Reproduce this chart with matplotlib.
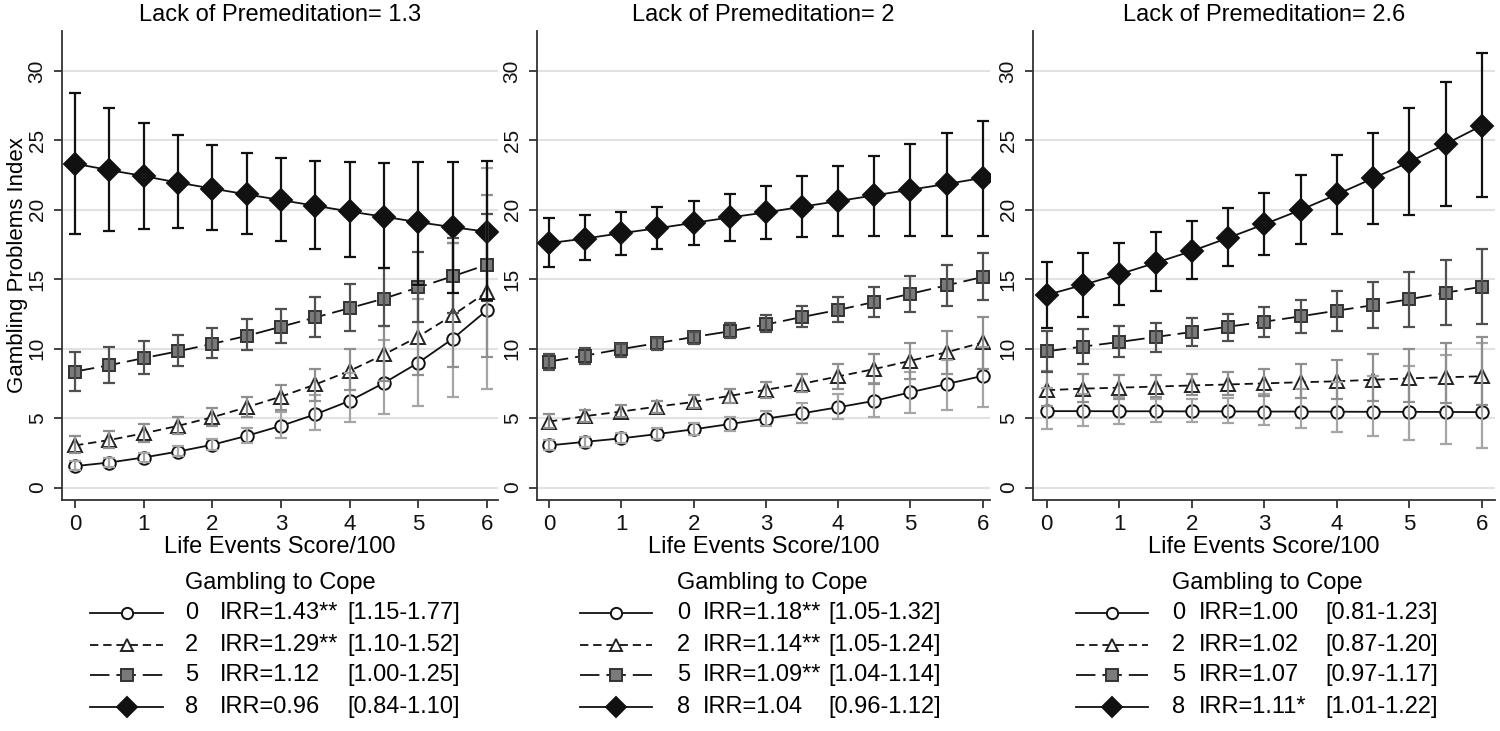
"""
Predicted Gambling Problems Index by life events, split by lack of
premeditation (three panels) and gambling-to-cope level (four lines).
"""

import numpy as np
import matplotlib
matplotlib.use("Agg")
import matplotlib.pyplot as plt
from matplotlib.lines import Line2D

plt.rcParams["font.family"] = ["Liberation Sans", "DejaVu Sans"]
plt.rcParams["lines.scale_dashes"] = False

# x axis: life events score / 100
LIFE_EVENTS = [0, 0.5, 1, 1.5, 2, 2.5, 3, 3.5, 4, 4.5, 5, 5.5, 6]
COPE_LEVELS = ["0", "2", "5", "8"]

# Lack of premeditation = 1.3
P13_C0 = [1.54, 1.80, 2.16, 2.59, 3.08, 3.72, 4.44, 5.27, 6.24, 7.53, 8.99, 10.71, 12.77]
P13_C0_LO = [1.25, 1.50, 1.85, 2.25, 2.70, 3.20, 3.60, 4.15, 4.70, 5.30, 5.90, 6.50, 7.10]
P13_C0_HI = [1.90, 2.16, 2.52, 2.98, 3.51, 4.32, 5.45, 6.65, 8.25, 10.60, 13.60, 17.60, 23.00]
P13_C2 = [3.03, 3.42, 3.90, 4.44, 5.06, 5.78, 6.55, 7.42, 8.40, 9.58, 10.87, 12.41, 14.08]
P13_C2_LO = [2.45, 2.85, 3.30, 3.85, 4.45, 5.05, 5.60, 6.25, 7.00, 7.70, 8.10, 8.70, 9.40]
P13_C2_HI = [3.70, 4.05, 4.55, 5.05, 5.70, 6.50, 7.40, 8.50, 9.95, 11.60, 14.50, 17.60, 21.10]
P13_C5 = [8.35, 8.81, 9.32, 9.81, 10.35, 10.92, 11.58, 12.25, 12.92, 13.61, 14.41, 15.21, 16.05]
P13_C5_LO = [6.94, 7.53, 8.14, 8.73, 9.32, 9.89, 10.40, 10.87, 11.30, 11.64, 11.90, 12.60, 13.40]
P13_C5_HI = [9.76, 10.15, 10.53, 10.97, 11.48, 12.12, 12.84, 13.69, 14.64, 15.80, 16.95, 17.98, 19.70]
P13_C8 = [23.32, 22.86, 22.43, 21.96, 21.53, 21.11, 20.70, 20.29, 19.88, 19.50, 19.11, 18.75, 18.42]
P13_C8_LO = [18.24, 18.50, 18.62, 18.67, 18.55, 18.24, 17.78, 17.21, 16.57, 15.80, 14.60, 14.00, 13.50]
P13_C8_HI = [28.38, 27.30, 26.28, 25.40, 24.66, 24.10, 23.76, 23.50, 23.43, 23.38, 23.43, 23.45, 23.55]

# Lack of premeditation = 2
P20_C0 = [3.03, 3.29, 3.54, 3.85, 4.19, 4.57, 4.96, 5.34, 5.78, 6.24, 6.86, 7.45, 8.04]
P20_C0_LO = [2.70, 2.95, 3.20, 3.50, 3.80, 4.10, 4.40, 4.62, 4.93, 5.10, 5.34, 5.60, 5.82]
P20_C0_HI = [3.40, 3.65, 3.92, 4.25, 4.62, 5.08, 5.50, 6.06, 6.70, 7.50, 8.30, 9.15, 10.10]
P20_C2 = [4.75, 5.14, 5.47, 5.83, 6.16, 6.60, 7.04, 7.47, 8.00, 8.53, 9.13, 9.74, 10.45]
P20_C2_LO = [4.29, 4.70, 5.06, 5.39, 5.72, 6.10, 6.44, 6.85, 7.10, 7.45, 7.85, 8.15, 8.50]
P20_C2_HI = [5.27, 5.57, 5.91, 6.24, 6.68, 7.06, 7.58, 8.18, 8.86, 9.60, 10.40, 11.28, 12.30]
P20_C5 = [9.07, 9.50, 9.97, 10.40, 10.84, 11.25, 11.74, 12.28, 12.79, 13.36, 13.95, 14.56, 15.16]
P20_C5_LO = [8.48, 8.91, 9.38, 9.89, 10.35, 10.79, 11.17, 11.56, 11.89, 12.28, 12.66, 13.10, 13.49]
P20_C5_HI = [9.63, 10.02, 10.35, 10.79, 11.23, 11.82, 12.46, 13.10, 13.74, 14.46, 15.23, 16.05, 16.90]
P20_C8 = [17.60, 17.93, 18.32, 18.67, 19.06, 19.45, 19.81, 20.22, 20.63, 21.04, 21.45, 21.86, 22.30]
P20_C8_LO = [15.85, 16.36, 16.77, 17.21, 17.47, 17.72, 17.90, 18.03, 18.11, 18.11, 18.11, 18.11, 18.11]
P20_C8_HI = [19.39, 19.65, 19.86, 20.22, 20.63, 21.11, 21.73, 22.40, 23.12, 23.89, 24.71, 25.56, 26.41]

# Lack of premeditation = 2.6
P26_C0 = [5.50, 5.50, 5.49, 5.49, 5.48, 5.48, 5.47, 5.47, 5.46, 5.45, 5.45, 5.44, 5.43]
P26_C0_LO = [4.21, 4.45, 4.59, 4.71, 4.74, 4.64, 4.47, 4.25, 3.97, 3.73, 3.44, 3.15, 2.88]
P26_C0_HI = [7.14, 6.75, 6.55, 6.38, 6.34, 6.48, 6.72, 7.07, 7.57, 8.05, 8.73, 9.53, 10.40]
P26_C2 = [7.01, 7.12, 7.19, 7.27, 7.35, 7.42, 7.50, 7.58, 7.65, 7.76, 7.86, 7.94, 8.01]
P26_C2_LO = [5.84, 6.18, 6.36, 6.52, 6.63, 6.64, 6.57, 6.48, 6.36, 6.26, 6.18, 6.06, 5.92]
P26_C2_HI = [8.41, 8.20, 8.13, 8.10, 8.15, 8.29, 8.56, 8.87, 9.20, 9.62, 10.00, 10.41, 10.84]
P26_C5 = [9.81, 10.15, 10.48, 10.84, 11.20, 11.58, 11.94, 12.33, 12.74, 13.13, 13.56, 14.03, 14.46]
P26_C5_LO = [8.35, 8.86, 9.38, 9.76, 10.20, 10.53, 10.87, 11.10, 11.30, 11.48, 11.56, 11.69, 11.74]
P26_C5_HI = [11.30, 11.43, 11.64, 11.87, 12.20, 12.51, 13.02, 13.54, 14.13, 14.82, 15.54, 16.36, 17.21]
P26_C8 = [13.87, 14.59, 15.36, 16.18, 17.03, 17.98, 18.96, 19.99, 21.11, 22.27, 23.45, 24.74, 26.07]
P26_C8_LO = [11.48, 12.28, 13.18, 14.13, 15.03, 15.93, 16.77, 17.54, 18.29, 19.01, 19.65, 20.29, 20.93]
P26_C8_HI = [16.23, 16.90, 17.60, 18.37, 19.21, 20.16, 21.24, 22.53, 23.97, 25.56, 27.31, 29.21, 31.29]

# Legend texts
P13_IRR = ["IRR=1.43**", "IRR=1.29**", "IRR=1.12", "IRR=0.96"]
P13_CI = ["[1.15-1.77]", "[1.10-1.52]", "[1.00-1.25]", "[0.84-1.10]"]
P20_IRR = ["IRR=1.18**", "IRR=1.14**", "IRR=1.09**", "IRR=1.04"]
P20_CI = ["[1.05-1.32]", "[1.05-1.24]", "[1.04-1.14]", "[0.96-1.12]"]
P26_IRR = ["IRR=1.00", "IRR=1.02", "IRR=1.07", "IRR=1.11*"]
P26_CI = ["[0.81-1.23]", "[0.87-1.20]", "[0.97-1.17]", "[1.01-1.22]"]

# One style per gambling-to-cope level
STYLES = [
    dict(marker="o", ms=9, mfc="white", mec="#111111", ls="-", ecolor="#a5a5a5"),
    dict(marker="^", ms=9.5, mfc="white", mec="#222222", ls=(0, (6, 3.5)), ecolor="#8f8f8f"),
    dict(marker="s", ms=9, mfc="#7a7a7a", mec="#333333", ls=(0, (14, 5)), ecolor="#505050"),
    dict(marker="D", ms=11, mfc="#111111", mec="#111111", ls="-", ecolor="#111111"),
]

W, H = 1500, 731


def draw_panel(fig, rect, xlim, title, series, show_ylabel):
    ax = fig.add_axes(rect)
    x = np.array(LIFE_EVENTS)
    for (mean, lo, hi), st in zip(series, STYLES):
        mean, lo, hi = np.array(mean), np.array(lo), np.array(hi)
        ax.plot(x, mean, color="#111111", lw=1.3, ls=st["ls"], marker=st["marker"],
                ms=st["ms"], mfc=st["mfc"], mec=st["mec"], mew=1.4, zorder=3)
        ax.errorbar(x, mean, yerr=[mean - lo, hi - mean], fmt="none", ecolor=st["ecolor"],
                    elinewidth=1.6, capsize=4, capthick=1.6, zorder=4)

    ax.set_xlim(*xlim)
    ax.set_ylim(-0.9, 32.9)
    ax.set_xticks(range(7))
    ax.set_yticks(range(0, 31, 5))
    ax.yaxis.grid(True, color="#e2e2e2", lw=1.5)
    ax.set_axisbelow(True)
    for side in ("top", "right"):
        ax.spines[side].set_visible(False)
    for side in ("left", "bottom"):
        ax.spines[side].set_color("#333333")
        ax.spines[side].set_linewidth(1.3)
    ax.tick_params(axis="both", colors="#333333", labelcolor="#111111",
                   length=6, width=1.3)
    ax.tick_params(axis="x", labelsize=16, pad=4)
    ax.tick_params(axis="y", labelsize=15, labelrotation=90, pad=5)
    for lab in ax.get_yticklabels():
        lab.set_va("center")

    ax.text(0.5, 1.0335, title, transform=ax.transAxes, ha="center", va="center", fontsize=17)
    ax.set_xlabel("Life Events Score/100", fontsize=17)
    ax.xaxis.set_label_coords(0.5, -0.10)
    ax.xaxis.label.set_va("center")
    if show_ylabel:
        ax.set_ylabel("Gambling Problems Index", fontsize=16)
        ax.yaxis.set_label_coords(-0.103, 0.5)
        ax.yaxis.label.set_va("center")
    return ax


def draw_legend(fig, hx0, hx1, num_x, irr_x, ci_x, irr_labels, ci_labels):
    fig.text(num_x / W, 1 - 583 / H, "Gambling to Cope", ha="left", va="center", fontsize=17)
    rows_y = [613, 645, 675, 707]
    for i, (y, st) in enumerate(zip(rows_y, STYLES)):
        yf = 1 - y / H
        xs = [hx0 / W, (hx0 + hx1) / 2 / W, hx1 / W]
        fig.add_artist(Line2D(xs, [yf] * 3, transform=fig.transFigure, color="#111111",
                              lw=1.3, ls=st["ls"], marker=st["marker"], markevery=[1],
                              ms=st["ms"] * 0.9, mfc=st["mfc"], mec=st["mec"], mew=1.4))
        fig.text(num_x / W, yf, COPE_LEVELS[i], ha="left", va="center", fontsize=17)
        fig.text(irr_x / W, yf, irr_labels[i], ha="left", va="center", fontsize=17)
        fig.text(ci_x / W, yf, ci_labels[i], ha="left", va="center", fontsize=17)


def main():
    fig = plt.figure(figsize=(15, 7.31), dpi=100)
    bottom, height = 1 - 500 / H, (500 - 30.7) / H

    draw_panel(fig, [62 / W, bottom, 436 / W, height], (-0.19, 6.16),
               "Lack of Premeditation= 1.3",
               [(P13_C0, P13_C0_LO, P13_C0_HI), (P13_C2, P13_C2_LO, P13_C2_HI),
                (P13_C5, P13_C5_LO, P13_C5_HI), (P13_C8, P13_C8_LO, P13_C8_HI)], True)
    draw_panel(fig, [537 / W, bottom, 453 / W, height], (-0.166, 6.1),
               "Lack of Premeditation= 2",
               [(P20_C0, P20_C0_LO, P20_C0_HI), (P20_C2, P20_C2_LO, P20_C2_HI),
                (P20_C5, P20_C5_LO, P20_C5_HI), (P20_C8, P20_C8_LO, P20_C8_HI)], False)
    draw_panel(fig, [1033 / W, bottom, 462 / W, height], (-0.19, 6.18),
               "Lack of Premeditation= 2.6",
               [(P26_C0, P26_C0_LO, P26_C0_HI), (P26_C2, P26_C2_LO, P26_C2_HI),
                (P26_C5, P26_C5_LO, P26_C5_HI), (P26_C8, P26_C8_LO, P26_C8_HI)], False)

    draw_legend(fig, 90, 163, 185, 220, 347, P13_IRR, P13_CI)
    draw_legend(fig, 580, 652, 677, 703, 828, P20_IRR, P20_CI)
    draw_legend(fig, 1076, 1148, 1172, 1199, 1325, P26_IRR, P26_CI)

    fig.savefig("out.png", dpi=100, facecolor="white")
    plt.close(fig)


if __name__ == "__main__":
    main()
